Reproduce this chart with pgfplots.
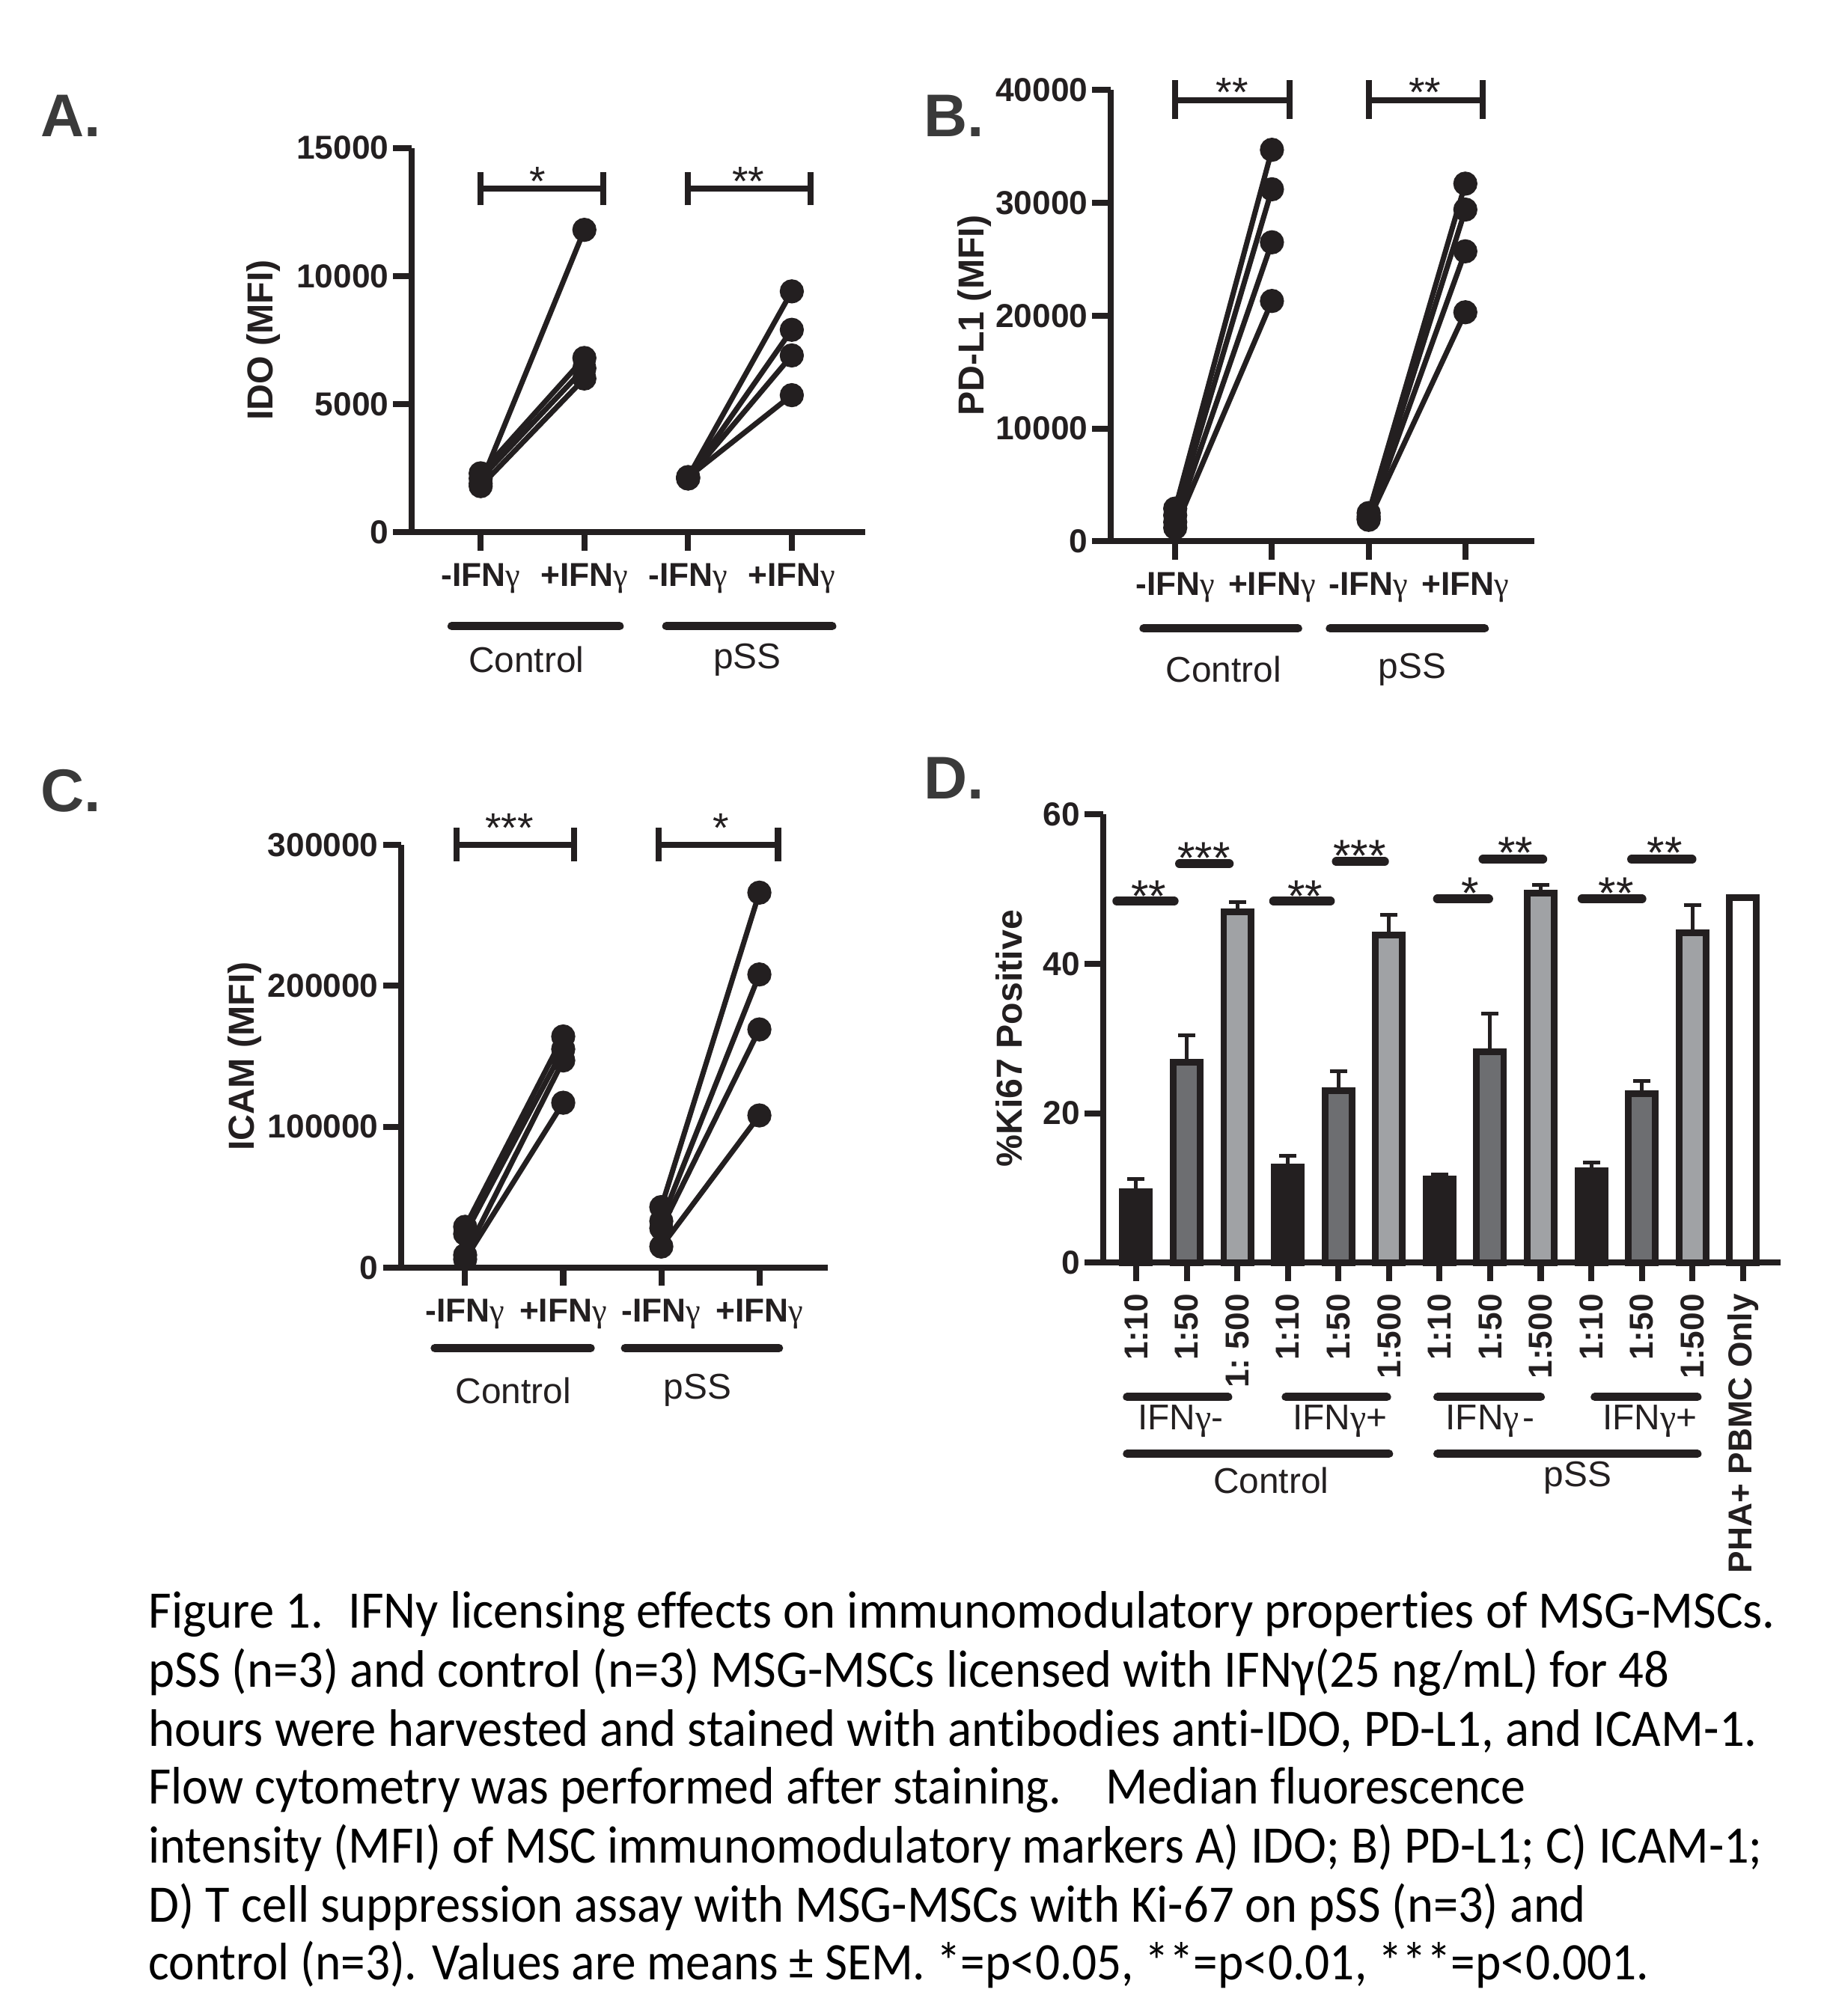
\documentclass[border=0pt]{standalone}
\usepackage{fontspec}
\setmainfont{Liberation Sans}
\newfontfamily\capfont[Ligatures=NoCommon]{Carlito}
\newfontfamily\gfont{Liberation Serif}
\usepackage{graphicx}
\usepackage{pgfplots}
\pgfplotsset{compat=1.18}
\definecolor{ink}{HTML}{231F20}
\definecolor{midgray}{HTML}{6D6E71}
\definecolor{lightgray}{HTML}{A0A2A5}
\definecolor{lettergray}{HTML}{3A3A3A}
\newcommand{\g}{{\gfont\mdseries γ}}
\newcommand{\tickfont}{\bfseries\fontsize{8.8}{10}\selectfont}
\newcommand{\labfont}{\bfseries\fontsize{9.6}{11}\selectfont}
\newcommand{\grpfont}{\fontsize{9.5}{11}\selectfont}
\newcommand{\starfont}{\fontsize{11}{12}\selectfont}
\newcommand{\dstarfont}{\fontsize{12}{13}\selectfont}
\newcommand{\letfont}{\bfseries\fontsize{16}{18}\selectfont}
\pgfplotsset{
  panel/.style={
    scale only axis,
    clip=false,
    axis x line*=bottom,
    axis y line*=left,
    axis line style={line width=1.6pt, color=ink},
    tick style={line width=1.6pt, color=ink},
    major tick length=0.17cm,
    tick align=outside,
    xtick pos=bottom, ytick pos=left,
    tick label style={font=\tickfont, color=ink},
    yticklabel style={inner sep=1pt},
    /pgf/number format/fixed,
    /pgf/number format/assume math mode=true,
    /pgf/number format/1000 sep={},
    scaled y ticks=false,
    ylabel style={font=\labfont, color=ink, anchor=center},
  },
  pair/.style={color=ink, line width=1.4pt, mark=*, mark size=2.5pt, mark options={fill=ink, draw=ink, solid}},
  errl/.style={color=ink, line width=1pt, mark=none},
  kbar/.style={ybar, bar width=0.535, bar shift=0pt, draw=ink, line width=1.77pt},
}
\begin{document}
\begin{tikzpicture}
\useasboundingbox (0,0) rectangle (17.016cm,18.816cm);

% panel letters
\node[font=\letfont, color=lettergray] at (0.66cm,17.736cm) {A.};
\node[font=\letfont, color=lettergray] at (8.904cm,17.736cm) {B.};
\node[font=\letfont, color=lettergray] at (0.66cm,11.436cm) {C.};
\node[font=\letfont, color=lettergray] at (8.904cm,11.556cm) {D.};

% ---------------- Panel A ----------------
\begin{axis}[panel, at={(3.84cm,13.848cm)}, anchor=south west,
  width=4.236cm, height=3.588cm,
  xmin=0.333, xmax=4.71, ymin=0, ymax=15000,
  ytick={0,5000,10000,15000},
  xtick={1,2,3,4},
  xticklabels={-IFN\g, +IFN\g, -IFN\g, +IFN\g},
  ylabel={IDO (MFI)},
  ylabel style={at={(axis description cs:-0.326,0.5)}},
]
\addplot[pair] coordinates {(1,1900) (2,11800)};
\addplot[pair] coordinates {(1,2300) (2,6800)};
\addplot[pair] coordinates {(1,2100) (2,6400)};
\addplot[pair] coordinates {(1,1800) (2,6000)};
\addplot[pair] coordinates {(3,2150) (4,9400)};
\addplot[pair] coordinates {(3,2100) (4,7900)};
\addplot[pair] coordinates {(3,2100) (4,6900)};
\addplot[pair] coordinates {(3,2150) (4,5350)};
\draw[ink, line width=1.6pt] (axis cs:1,13400) -- (axis cs:2.18,13400);
\draw[ink, line width=1.6pt] (axis cs:1,12760) -- (axis cs:1,14060);
\draw[ink, line width=1.6pt] (axis cs:2.18,12760) -- (axis cs:2.18,14060);
\draw[ink, line width=1.6pt] (axis cs:3,13400) -- (axis cs:4.18,13400);
\draw[ink, line width=1.6pt] (axis cs:3,12760) -- (axis cs:3,14060);
\draw[ink, line width=1.6pt] (axis cs:4.18,12760) -- (axis cs:4.18,14060);
\node[font=\starfont, color=ink, anchor=base, inner sep=0pt] at (axis cs:1.55,13120) {*};
\node[font=\starfont, color=ink, anchor=base, inner sep=0pt] at (axis cs:3.58,13120) {**};
\draw[ink, line width=2.2pt, line cap=round] (axis cs:0.72,-3660) -- (axis cs:2.34,-3660);
\draw[ink, line width=2.2pt, line cap=round] (axis cs:2.79,-3660) -- (axis cs:4.39,-3660);
\node[font=\grpfont, color=ink] at (axis cs:1.44,-4965) {Control};
\node[font=\grpfont, color=ink] at (axis cs:3.57,-4965) {pSS};
\end{axis}

% ---------------- Panel B ----------------
\begin{axis}[panel, at={(10.363cm,13.764cm)}, anchor=south west,
  width=3.952cm, height=4.212cm,
  xmin=0.331, xmax=4.71, ymin=0, ymax=40000,
  ytick={0,10000,20000,30000,40000},
  xtick={1,2,3,4},
  xticklabels={-IFN\g, +IFN\g, -IFN\g, +IFN\g},
  ylabel={PD-L1 (MFI)},
  ylabel style={at={(axis description cs:-0.321,0.5)}},
]
\addplot[pair] coordinates {(1,2900) (2,34700)};
\addplot[pair] coordinates {(1,2300) (2,31200)};
\addplot[pair] coordinates {(1,1700) (2,26500)};
\addplot[pair] coordinates {(1,1200) (2,21300)};
\addplot[pair] coordinates {(3,2500) (4,31700)};
\addplot[pair] coordinates {(3,2200) (4,29400)};
\addplot[pair] coordinates {(3,2000) (4,25700)};
\addplot[pair] coordinates {(3,1900) (4,20300)};
\draw[ink, line width=1.6pt] (axis cs:1,39100) -- (axis cs:2.18,39100);
\draw[ink, line width=1.6pt] (axis cs:1,37400) -- (axis cs:1,40900);
\draw[ink, line width=1.6pt] (axis cs:2.18,37400) -- (axis cs:2.18,40900);
\draw[ink, line width=1.6pt] (axis cs:3,39100) -- (axis cs:4.18,39100);
\draw[ink, line width=1.6pt] (axis cs:3,37400) -- (axis cs:3,40900);
\draw[ink, line width=1.6pt] (axis cs:4.18,37400) -- (axis cs:4.18,40900);
\node[font=\starfont, color=ink, anchor=base, inner sep=0pt] at (axis cs:1.59,38540) {**};
\node[font=\starfont, color=ink, anchor=base, inner sep=0pt] at (axis cs:3.58,38540) {**};
\draw[ink, line width=2.2pt, line cap=round] (axis cs:0.673,-7720) -- (axis cs:2.27,-7720);
\draw[ink, line width=2.2pt, line cap=round] (axis cs:2.6,-7720) -- (axis cs:4.2,-7720);
\node[font=\grpfont, color=ink] at (axis cs:1.5,-11360) {Control};
\node[font=\grpfont, color=ink] at (axis cs:3.45,-11360) {pSS};
\end{axis}

% ---------------- Panel C ----------------
\begin{axis}[panel, at={(3.743cm,6.984cm)}, anchor=south west,
  width=3.984cm, height=3.948cm,
  xmin=0.347, xmax=4.70, ymin=0, ymax=300000,
  ytick={0,100000,200000,300000},
  xtick={1,2,3,4},
  xticklabels={-IFN\g, +IFN\g, -IFN\g, +IFN\g},
  ylabel={ICAM (MFI)},
  ylabel style={at={(axis description cs:-0.367,0.5)}},
]
\addplot[pair] coordinates {(1,29000) (2,164000)};
\addplot[pair] coordinates {(1,24000) (2,155000)};
\addplot[pair] coordinates {(1,9000) (2,147000)};
\addplot[pair] coordinates {(1,6000) (2,117000)};
\addplot[pair] coordinates {(3,43000) (4,266000)};
\addplot[pair] coordinates {(3,33000) (4,208000)};
\addplot[pair] coordinates {(3,28000) (4,169000)};
\addplot[pair] coordinates {(3,15000) (4,108000)};
\draw[ink, line width=1.6pt] (axis cs:0.91,300000) -- (axis cs:2.11,300000);
\draw[ink, line width=1.6pt] (axis cs:0.91,288000) -- (axis cs:0.91,312000);
\draw[ink, line width=1.6pt] (axis cs:2.11,288000) -- (axis cs:2.11,312000);
\draw[ink, line width=1.6pt] (axis cs:2.97,300000) -- (axis cs:4.19,300000);
\draw[ink, line width=1.6pt] (axis cs:2.97,288000) -- (axis cs:2.97,312000);
\draw[ink, line width=1.6pt] (axis cs:4.19,288000) -- (axis cs:4.19,312000);
\node[font=\starfont, color=ink, anchor=base, inner sep=0pt] at (axis cs:1.45,301850) {***};
\node[font=\starfont, color=ink, anchor=base, inner sep=0pt] at (axis cs:3.61,301850) {*};
\draw[ink, line width=2.2pt, line cap=round] (axis cs:0.69,-57000) -- (axis cs:2.28,-57000);
\draw[ink, line width=2.2pt, line cap=round] (axis cs:2.63,-57000) -- (axis cs:4.2,-57000);
\node[font=\grpfont, color=ink] at (axis cs:1.49,-87000) {Control};
\node[font=\grpfont, color=ink] at (axis cs:3.37,-87000) {pSS};
\end{axis}

% ---------------- Panel D ----------------
\begin{axis}[panel, at={(10.292cm,7.032cm)}, anchor=south west,
  width=6.322cm, height=4.182cm,
  xmin=0.343, xmax=13.74, ymin=0, ymax=60,
  ytick={0,20,40,60},
  xtick={1,2,3,4,5,6,7,8,9,10,11,12,13},
  xticklabels={1:10, 1:50, 1:~500, 1:10, 1:50, 1:500, 1:10, 1:50, 1:500, 1:10, 1:50, 1:500, PHA+~PBMC~Only},
  xticklabel style={rotate=90, anchor=east},
  ylabel={\%Ki67 Positive},
  ylabel style={at={(axis description cs:-0.138,0.5)}},
]
% error bars (upper only)
\addplot[errl] coordinates {(1,9.5) (1,11.15)};
\addplot[errl] coordinates {(0.83,11.15) (1.17,11.15)};
\addplot[errl] coordinates {(2,26.8) (2,30.4)};
\addplot[errl] coordinates {(1.83,30.4) (2.17,30.4)};
\addplot[errl] coordinates {(3,47.0) (3,48.3)};
\addplot[errl] coordinates {(2.83,48.3) (3.17,48.3)};
\addplot[errl] coordinates {(4,12.85) (4,14.3)};
\addplot[errl] coordinates {(3.83,14.3) (4.17,14.3)};
\addplot[errl] coordinates {(5,23.0) (5,25.6)};
\addplot[errl] coordinates {(4.83,25.6) (5.17,25.6)};
\addplot[errl] coordinates {(6,43.9) (6,46.6)};
\addplot[errl] coordinates {(5.83,46.6) (6.17,46.6)};
\addplot[errl] coordinates {(7,11.2) (7,11.75)};
\addplot[errl] coordinates {(6.83,11.75) (7.17,11.75)};
\addplot[errl] coordinates {(8,28.2) (8,33.3)};
\addplot[errl] coordinates {(7.83,33.3) (8.17,33.3)};
\addplot[errl] coordinates {(9,49.5) (9,50.6)};
\addplot[errl] coordinates {(8.83,50.6) (9.17,50.6)};
\addplot[errl] coordinates {(10,12.3) (10,13.4)};
\addplot[errl] coordinates {(9.83,13.4) (10.17,13.4)};
\addplot[errl] coordinates {(11,22.6) (11,24.3)};
\addplot[errl] coordinates {(10.83,24.3) (11.17,24.3)};
\addplot[errl] coordinates {(12,44.2) (12,47.9)};
\addplot[errl] coordinates {(11.83,47.9) (12.17,47.9)};
% bars
\addplot[kbar, fill=ink] coordinates {(1,9.5) (4,12.85) (7,11.2) (10,12.3)};
\addplot[kbar, fill=midgray] coordinates {(2,26.8) (5,23.0) (8,28.2) (11,22.6)};
\addplot[kbar, fill=lightgray] coordinates {(3,47.0) (6,43.9) (9,49.5) (12,44.2)};
\addplot[kbar, fill=white] coordinates {(13,48.9)};
% significance
\draw[ink, line width=2.4pt, line cap=round] (axis cs:0.62,48.4) -- (axis cs:1.75,48.4);
\draw[ink, line width=2.4pt, line cap=round] (axis cs:1.86,53.4) -- (axis cs:2.84,53.4);
\draw[ink, line width=2.4pt, line cap=round] (axis cs:3.72,48.4) -- (axis cs:4.84,48.4);
\draw[ink, line width=2.4pt, line cap=round] (axis cs:4.96,53.7) -- (axis cs:5.91,53.7);
\draw[ink, line width=2.4pt, line cap=round] (axis cs:6.96,48.7) -- (axis cs:7.97,48.7);
\draw[ink, line width=2.4pt, line cap=round] (axis cs:7.86,54.0) -- (axis cs:9.04,54.0);
\draw[ink, line width=2.4pt, line cap=round] (axis cs:9.82,48.7) -- (axis cs:11.0,48.7);
\draw[ink, line width=2.4pt, line cap=round] (axis cs:10.8,54.0) -- (axis cs:11.99,54.0);
\node[font=\dstarfont, color=ink, anchor=base, inner sep=0pt] at (axis cs:1.25,47.0) {**};
\node[font=\dstarfont, color=ink, anchor=base, inner sep=0pt] at (axis cs:2.34,52.1) {***};
\node[font=\dstarfont, color=ink, anchor=base, inner sep=0pt] at (axis cs:4.34,47.0) {**};
\node[font=\dstarfont, color=ink, anchor=base, inner sep=0pt] at (axis cs:5.42,52.4) {***};
\node[font=\dstarfont, color=ink, anchor=base, inner sep=0pt] at (axis cs:7.6,47.35) {*};
\node[font=\dstarfont, color=ink, anchor=base, inner sep=0pt] at (axis cs:8.5,52.8) {**};
\node[font=\dstarfont, color=ink, anchor=base, inner sep=0pt] at (axis cs:10.49,47.35) {**};
\node[font=\dstarfont, color=ink, anchor=base, inner sep=0pt] at (axis cs:11.45,52.8) {**};
% group lines
\draw[ink, line width=2.2pt, line cap=round] (axis cs:0.82,-18) -- (axis cs:2.82,-18);
\draw[ink, line width=2.2pt, line cap=round] (axis cs:3.96,-18) -- (axis cs:5.96,-18);
\draw[ink, line width=2.2pt, line cap=round] (axis cs:6.96,-18) -- (axis cs:9.0,-18);
\draw[ink, line width=2.2pt, line cap=round] (axis cs:10.07,-18) -- (axis cs:12.1,-18);
\node[font=\grpfont, color=ink] at (axis cs:1.88,-21.2) {IFN\g-};
\node[font=\grpfont, color=ink] at (axis cs:5.03,-21.2) {IFN\g+};
\node[font=\grpfont, color=ink] at (axis cs:8.0,-21.2) {IFN\g\kern0.1em-};
\node[font=\grpfont, color=ink] at (axis cs:11.16,-21.2) {IFN\g+};
\draw[ink, line width=2.2pt, line cap=round] (axis cs:0.82,-25.6) -- (axis cs:6.0,-25.6);
\draw[ink, line width=2.2pt, line cap=round] (axis cs:6.96,-25.6) -- (axis cs:12.1,-25.6);
\node[font=\grpfont, color=ink] at (axis cs:3.67,-29.2) {Control};
\node[font=\grpfont, color=ink] at (axis cs:9.73,-28.8) {pSS};
\end{axis}

% ---------------- Caption ----------------
\newcommand{\capline}[3]{\node[anchor=base west, inner sep=0pt] at (1.38cm,#1) {\resizebox{#2}{\height}{\capfont\fontsize{14}{16}\selectfont #3}};}
\capline{3.624cm}{15.18cm}{Figure 1.\hspace{0.5em}IFNy licensing effects on immunomodulatory properties of MSG-MSCs.}
\capline{3.072cm}{14.196cm}{pSS (n=3) and control (n=3) MSG-MSCs licensed with IFNγ(25 ng/mL) for 48}
\capline{2.52cm}{15.012cm}{hours were harvested and stained with antibodies anti-IDO, PD-L1, and ICAM-1.}
\capline{1.98cm}{12.852cm}{Flow cytometry was performed after staining.\hspace{0.9em}Median fluorescence}
\capline{1.428cm}{15.06cm}{intensity (MFI) of MSC immunomodulatory markers A) IDO; B) PD-L1; C) ICAM-1;}
\capline{0.876cm}{13.416cm}{D) T cell suppression assay with MSG-MSCs with Ki-67 on pSS (n=3) and}
\capline{0.336cm}{14.004cm}{control (n=3). Values are means ± SEM. *=p<0.05, **=p<0.01, ***=p<0.001.}
\end{tikzpicture}
\end{document}
